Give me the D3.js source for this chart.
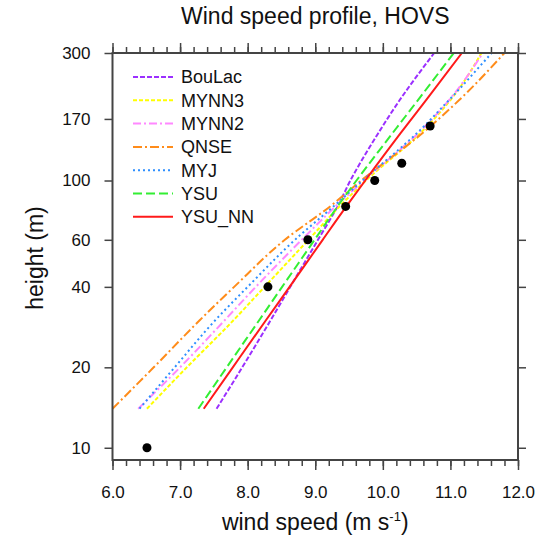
<!DOCTYPE html>
<html>
<head>
<meta charset="utf-8">
<script src="https://cdn.jsdelivr.net/npm/d3@7"></script>
<style>
  body { margin: 0; background: #fff; }
  svg { font-family: "Liberation Sans", Arial, sans-serif; }
</style>
</head>
<body>
<script>
// model levels (m) and wind speed per scheme (m/s)
const heights = [14, 20, 30, 40, 60, 80, 100, 150, 200, 300];
const BouLac = [7.54, 7.92, 8.34, 8.63, 9.04, 9.33, 9.52, 9.93, 10.25, 10.76];
const MYNN3  = [6.51, 7.10, 7.79, 8.25, 8.90, 9.36, 9.75, 10.55, 11.00, 11.46];
const MYNN2  = [6.38, 7.00, 7.66, 8.12, 8.80, 9.30, 9.72, 10.52, 10.98, 11.48];
const QNSE   = [6.00, 6.61, 7.29, 7.80, 8.55, 9.22, 9.68, 10.58, 11.13, 11.80];
const MYJ    = [6.40, 6.92, 7.52, 8.00, 8.70, 9.27, 9.70, 10.50, 10.98, 11.61];
const YSU    = [7.27, 7.69, 8.17, 8.51, 8.99, 9.33, 9.61, 10.14, 10.52, 11.05];
const YSU_NN = [7.35, 7.78, 8.27, 8.62, 9.11, 9.46, 9.74, 10.26, 10.64, 11.17];

// observations (black dots)
const obsHeight = [10, 40, 60, 80, 100, 116, 160];
const obsSpeed  = [6.51, 8.30, 8.89, 9.45, 9.88, 10.28, 10.70];

const yTicks = [10, 20, 40, 60, 100, 170, 300];
const xTicks = [6, 7, 8, 9, 10, 11, 12];

const series = [
  {name: "BouLac", values: BouLac, color: "#9b30ff", dash: "5,2"},
  {name: "MYNN3",  values: MYNN3,  color: "#ffff00", dash: "4,2"},
  {name: "MYNN2",  values: MYNN2,  color: "#ff88ff", dash: "8,3,2,3"},
  {name: "QNSE",   values: QNSE,   color: "#ff8c1a", dash: "9,3,2,3"},
  {name: "MYJ",    values: MYJ,    color: "#2e8fff", dash: "2,3"},
  {name: "YSU",    values: YSU,    color: "#33ee33", dash: "9,4"},
  {name: "YSU_NN", values: YSU_NN, color: "#ff1a1a", dash: null}
];

const W = 538, H = 537;
const mLeft = 112.5, mRight = 518, mTop = 53, mBottom = 460;

const x = d3.scaleLinear().domain([6, 12]).range([mLeft, mRight]);
const y = d3.scaleLog().domain([9, 300]).range([mBottom, mTop]);

const svg = d3.select("body").append("svg").attr("width", W).attr("height", H);

svg.append("defs").append("clipPath").attr("id", "clip")
  .append("rect").attr("x", mLeft).attr("y", mTop).attr("width", mRight - mLeft).attr("height", mBottom - mTop);

const line = d3.line().x(d => x(d[1])).y(d => y(d[0])).curve(d3.curveMonotoneY);

const lines = svg.append("g").attr("clip-path", "url(#clip)");
series.forEach(s => {
  lines.append("path")
    .datum(heights.map((h, i) => [h, s.values[i]]))
    .attr("d", line)
    .attr("fill", "none")
    .attr("stroke", s.color)
    .attr("stroke-width", 2)
    .attr("stroke-dasharray", s.dash);
});

svg.append("g").selectAll("circle").data(obsHeight).join("circle")
  .attr("cx", (d, i) => x(obsSpeed[i]))
  .attr("cy", d => y(d))
  .attr("r", 4.5)
  .attr("fill", "#000");

// frame + ticks
const axisColor = "#444";
const minor = d3.range(6, 12.001, 0.2);
svg.append("g").attr("transform", `translate(0,${mBottom})`)
  .call(d3.axisBottom(x).tickValues(minor).tickSize(6).tickSizeOuter(0).tickFormat(""));
svg.append("g").attr("transform", `translate(0,${mTop})`)
  .call(d3.axisTop(x).tickValues(minor).tickSize(6).tickSizeOuter(0).tickFormat(""));
svg.append("g").attr("transform", `translate(0,${mBottom})`)
  .call(d3.axisBottom(x).tickValues(xTicks).tickSize(10).tickSizeOuter(0).tickFormat(d3.format(".1f")))
  .call(g => g.selectAll("text").attr("y", 38).attr("dy", 0));
svg.append("g").attr("transform", `translate(0,${mTop})`)
  .call(d3.axisTop(x).tickValues(xTicks).tickSize(10).tickSizeOuter(0).tickFormat(""));
svg.append("g").attr("transform", `translate(${mLeft},0)`)
  .call(d3.axisLeft(y).tickValues(yTicks).tickSize(8).tickSizeOuter(0).tickFormat(d3.format("d")))
  .call(g => g.selectAll("text").attr("x", -22));
svg.append("g").attr("transform", `translate(${mRight},0)`)
  .call(d3.axisRight(y).tickValues(yTicks).tickSize(8).tickSizeOuter(0).tickFormat(""));

svg.selectAll(".domain").remove();
svg.selectAll(".tick line").attr("stroke", axisColor).attr("stroke-width", 1.5);
svg.selectAll(".tick text").attr("fill", "#111").style("font-size", "17px")
  .style("font-family", "'Liberation Sans', Arial, sans-serif");

svg.append("rect")
  .attr("x", mLeft).attr("y", mTop).attr("width", mRight - mLeft).attr("height", mBottom - mTop)
  .attr("fill", "none").attr("stroke", axisColor).attr("stroke-width", 2);

// legend
const leg = svg.append("g").attr("transform", "translate(133,77)");
series.forEach((s, i) => {
  const r = leg.append("g").attr("transform", `translate(0,${i * 23.3})`);
  r.append("line").attr("x1", 0).attr("x2", 40).attr("y1", 0).attr("y2", 0)
    .attr("stroke", s.color).attr("stroke-width", 2).attr("stroke-dasharray", s.dash);
  r.append("text").attr("x", 48).attr("y", 0).attr("dy", "0.36em")
    .style("font-size", "18px").attr("fill", "#111").text(s.name);
});

// titles
svg.append("text").attr("x", (mLeft + mRight) / 2).attr("y", 24).attr("text-anchor", "middle")
  .style("font-size", "23px").attr("fill", "#111").text("Wind speed profile, HOVS");

const xl = svg.append("text").attr("x", (mLeft + mRight) / 2).attr("y", 530).attr("text-anchor", "middle")
  .style("font-size", "23px").attr("fill", "#111");
xl.append("tspan").text("wind speed (m s");
xl.append("tspan").attr("dy", -9).style("font-size", "13px").text("-1");
xl.append("tspan").attr("dy", 9).text(")");

svg.append("text").attr("transform", `translate(43,258) rotate(-90)`)
  .attr("text-anchor", "middle").style("font-size", "23px").attr("fill", "#111").text("height (m)");
</script>
</body>
</html>
